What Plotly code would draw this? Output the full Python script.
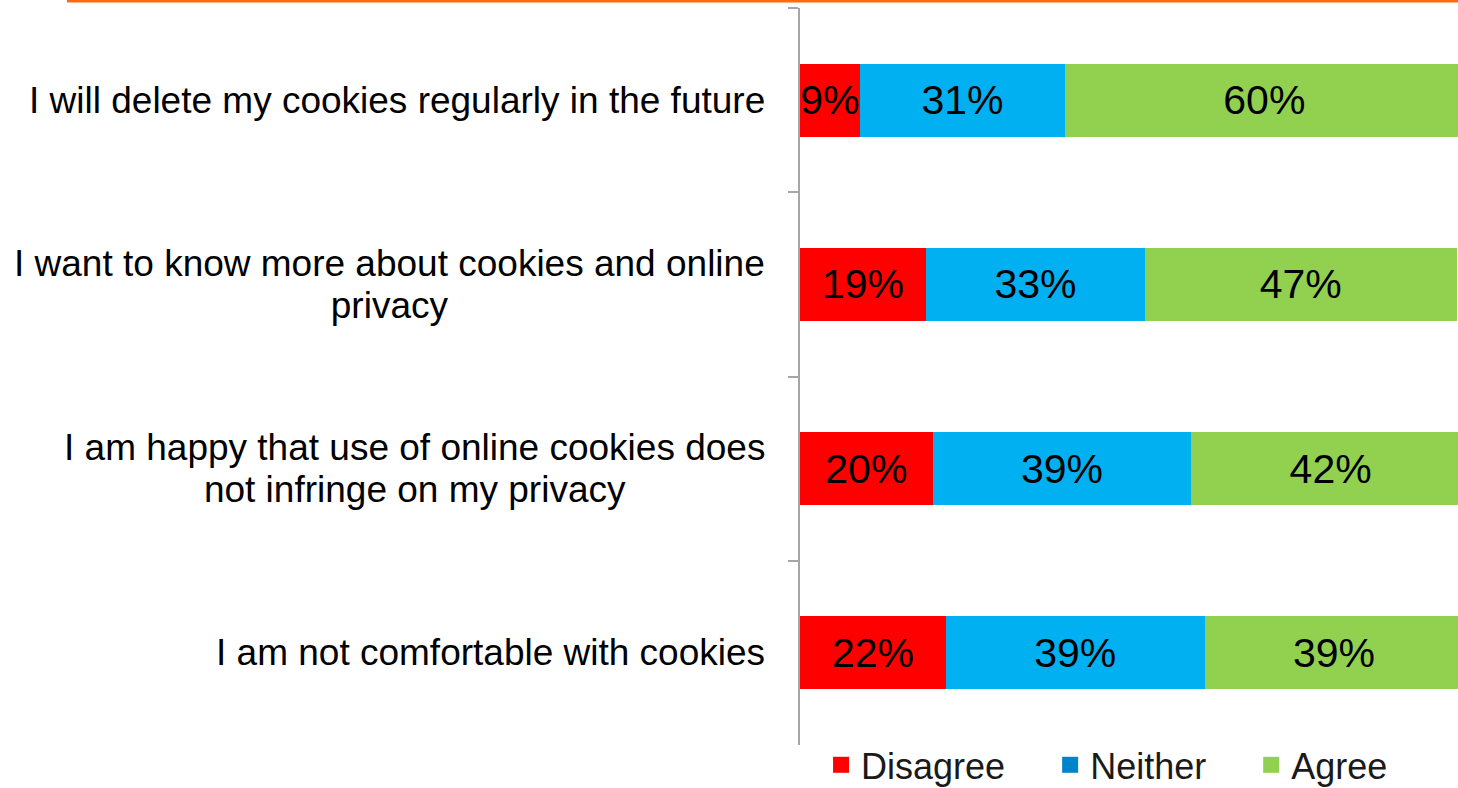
import plotly.graph_objects as go

# Survey statements, top to bottom
statements = [
    ["I will delete my cookies regularly in the future"],
    ["I want to know more about cookies and online", "privacy"],
    ["I am happy that use of online cookies does", "not infringe on my privacy"],
    ["I am not comfortable with cookies"],
]
categories = [" ".join(s) for s in statements]

disagree = [9, 19, 20, 22]
neither = [31, 33, 39, 39]
agree = [60, 47, 42, 39]

series_names = ["Disagree", "Neither", "Agree"]
bar_colors = ["#FF0000", "#00B0F0", "#92D050"]
legend_colors = ["#FF0000", "#0083C9", "#92D050"]

FONT = "Liberation Sans, Arial, sans-serif"

fig = go.Figure()

for name, vals, col in zip(series_names, [disagree, neither, agree], bar_colors):
    fig.add_trace(go.Bar(
        y=categories,
        x=vals,
        orientation="h",
        name=name,
        marker=dict(color=col, line=dict(width=0)),
        text=[f"{v}%" for v in vals],
        textposition="inside",
        insidetextanchor="middle",
        constraintext="none",
        textangle=0,
        textfont=dict(family=FONT, size=41, color="#000000"),
        showlegend=False,
        hoverinfo="skip",
    ))

# Legend key: square swatches
for name, col in zip(series_names, legend_colors):
    label = name + "\u00a0" * 4 if name != series_names[-1] else name
    fig.add_trace(go.Scatter(
        x=[None], y=[None], mode="markers", name=label,
        marker=dict(color=col, symbol="square", size=16, line=dict(width=0)),
        showlegend=True, hoverinfo="skip",
    ))

# Category labels, centred multi-line text right-aligned against the axis
annotations = []
for cat, lines in zip(categories, statements):
    txt = "<br>".join(f'<span style="font-size:37px">{ln}</span>' for ln in lines)
    annotations.append(dict(
        x=0, xref="paper", xshift=-33, xanchor="right",
        y=cat, yref="y", yanchor="middle",
        text=txt, showarrow=False, align="center",
        font=dict(family=FONT, size=32, color="#000000"),
    ))

fig.update_layout(
    width=1458, height=788,
    margin=dict(l=800, r=0, t=8, b=43, autoexpand=False),
    paper_bgcolor="white", plot_bgcolor="white",
    barmode="stack",
    bargap=0.604,
    font=dict(family=FONT, color="#000000"),
    annotations=annotations,
    showlegend=True,
    legend=dict(
        orientation="h",
        x=0.032, xanchor="left",
        y=-0.027, yanchor="middle",
        font=dict(family=FONT, size=36, color="#1A1A1A"),
        bgcolor="rgba(0,0,0,0)",
        traceorder="normal",
    ),
    shapes=[dict(
        type="line", xref="paper", yref="paper",
        x0=(67 - 800) / 658, x1=1.0,
        y0=1 + 7 / 737, y1=1 + 7 / 737,
        line=dict(color="#FF6A0E", width=3),
    )],
)

fig.update_xaxes(range=[0, 99.2], visible=False, showgrid=False, zeroline=False)
fig.update_yaxes(
    type="category",
    categoryorder="array", categoryarray=categories,
    autorange="reversed",
    showticklabels=False,
    showgrid=False, zeroline=False,
    showline=True, linecolor="#A6A6A6", linewidth=2,
    ticks="outside", tickson="boundaries", ticklen=10,
    tickcolor="#A6A6A6", tickwidth=2,
)

fig.write_html("out.html")
